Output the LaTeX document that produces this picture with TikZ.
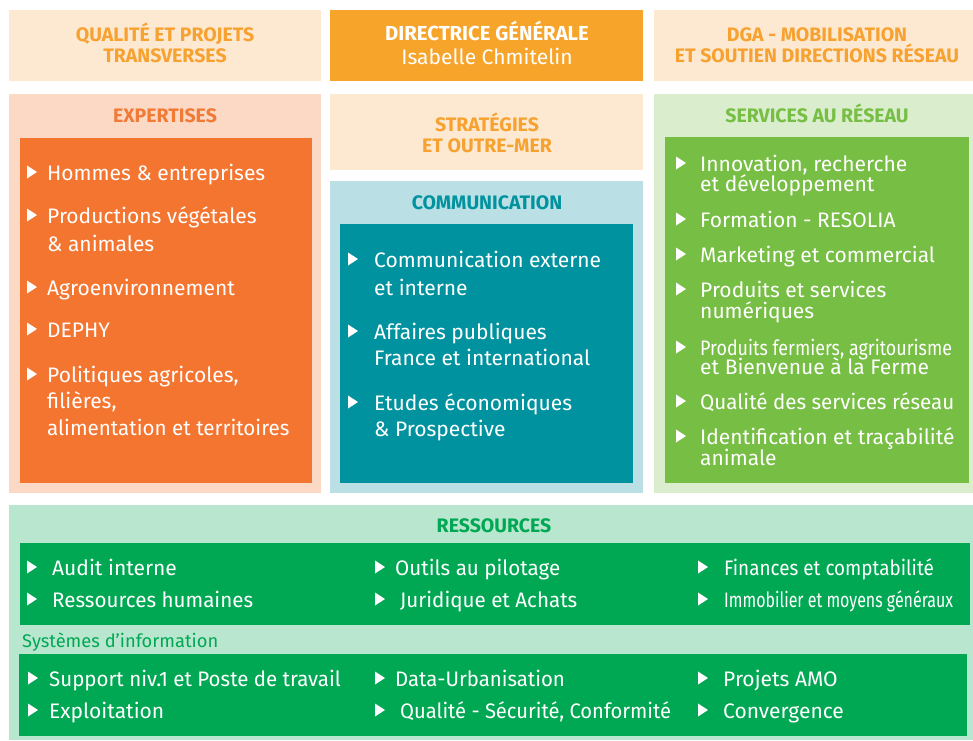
\documentclass[tikz,border=0pt]{standalone}
\usepackage{fontspec}
\setmainfont{Fira Sans}
\definecolor{peach}{HTML}{FDE9D1}
\definecolor{otext}{HTML}{F7A230}
\definecolor{dir}{HTML}{F7A42B}
\definecolor{expout}{HTML}{FBD9C5}
\definecolor{expin}{HTML}{F47530}
\definecolor{exptxt}{HTML}{F07A36}
\definecolor{comout}{HTML}{BADFE4}
\definecolor{comin}{HTML}{00939F}
\definecolor{srvout}{HTML}{DAEDCC}
\definecolor{srvin}{HTML}{77BE44}
\definecolor{resout}{HTML}{B8E6CF}
\definecolor{resin}{HTML}{00A853}
\tikzset{
  ttl/.style={anchor=base, inner sep=0pt, font=\bfseries\fontsize{19.5}{19.5}\selectfont},
  body/.style={anchor=base west, inner sep=0pt, text=white, font=\fontsize{21}{21}\selectfont},
  small/.style={anchor=base west, inner sep=0pt, font=\fontsize{18.3}{18.3}\selectfont},
  bul/.style={fill=white},
}
\newcommand\tri[2]{\fill[bul] (#1,#2-14.5) -- (#1+10,#2-8) -- (#1,#2-1.5) -- cycle;}
\newcommand\sx[2]{\scalebox{#1}[1]{#2}}
\begin{document}
\begin{tikzpicture}[x=1pt,y=-1pt]
\useasboundingbox (0,0) rectangle (973,740);
\fill[white] (0,0) rectangle (973,740);
% top row
\fill[peach] (9,10) rectangle (321,81);
\fill[dir] (330,10) rectangle (643,81);
\fill[peach] (654,10) rectangle (973,81);
\node[ttl,text=otext] (q1) at (165,41) {QUALITÉ ET PROJETS};
\node[ttl,text=otext] (q2) at (165,62) {TRANSVERSES};
\node[ttl,text=white,font=\bfseries\fontsize{20.3}{20.3}\selectfont] (d1) at (487,40) {DIRECTRICE GÉNÉRALE};
\node[anchor=base,inner sep=0pt,text=white,font=\fontsize{21}{21}\selectfont] (d2) at (487,64) {Isabelle Chmitelin};
\node[ttl,text=otext] (g1) at (817,41) {DGA - MOBILISATION};
\node[ttl,text=otext] (g2) at (817,62) {ET SOUTIEN DIRECTIONS RÉSEAU};
% expertises
\fill[expout] (9,94) rectangle (321,493);
\fill[expin] (20,138) rectangle (312,483);
\node[ttl,text=exptxt] (ex) at (165,122) {EXPERTISES};
\tri{27}{180}\node[body] (e1) at (47,180) {Hommes \& entreprises};
\tri{27}{223}\node[body] (e2) at (47,223) {Productions végétales};
\node[body] (e2b) at (47,251) {\& animales};
\tri{27}{295}\node[body] (e3) at (47,295) {Agroenvironnement};
\tri{27}{337}\node[body] (e4) at (47,337) {DEPHY};
\tri{27}{382}\node[body] (e5) at (47,382) {Politiques agricoles,};
\node[body] (e5b) at (47,408) {filières,};
\node[body] (e5c) at (47,435) {\sx{0.98}{alimentation et territoires}};
% strategies
\fill[peach] (330,94) rectangle (643,170);
\node[ttl,text=otext] (s1) at (487,131) {STRATÉGIES};
\node[ttl,text=otext] (s2) at (487,152) {ET OUTRE-MER};
% communication
\fill[comout] (330,181) rectangle (643,493);
\fill[comin] (340,224) rectangle (633,483);
\node[ttl,text=comin] (co) at (487,209) {COMMUNICATION};
\tri{348}{267}\node[body] (c1) at (374,267) {Communication externe};
\node[body] (c1b) at (374,295) {et interne};
\tri{348}{339}\node[body] (c2) at (374,339) {Affaires publiques};
\node[body] (c2b) at (374,365) {France et international};
\tri{348}{410}\node[body] (c3) at (374,410) {Etudes économiques};
\node[body] (c3b) at (374,436) {\& Prospective};
% services
\fill[srvout] (654,94) rectangle (973,493);
\fill[srvin] (665,137) rectangle (969,483);
\node[ttl,text=srvin] (sv) at (817,122) {SERVICES AU RÉSEAU};
\tri{676}{171}\node[body] (r1) at (700,171) {Innovation, recherche};
\node[body] (r1b) at (700,191) {et développement};
\tri{676}{227}\node[body] (r2) at (700,227) {Formation - RESOLIA};
\tri{676}{262}\node[body] (r3) at (700,262) {Marketing et commercial};
\tri{676}{297}\node[body] (r4) at (700,297) {Produits et services};
\node[body] (r4b) at (700,318) {numériques};
\tri{676}{355}\node[body] (r5) at (700,355) {\sx{0.85}{Produits fermiers, agritourisme}};
\node[body] (r5b) at (700,374) {et Bienvenue à la Ferme};
\tri{676}{409}\node[body] (r6) at (700,409) {\sx{0.98}{Qualité des services réseau}};
\tri{676}{444}\node[body] (r7) at (700,444) {Identification et traçabilité};
\node[body] (r7b) at (700,465) {animale};
% ressources
\fill[resout] (9,505) rectangle (973,740);
\fill[resin] (20,543) rectangle (970,625);
\fill[resin] (19,654) rectangle (967,736);
\node[ttl,text=resin] (rs) at (494,532) {RESSOURCES};
\tri{27}{575}\node[body] (a1) at (52,575) {Audit interne};
\tri{27}{607}\node[body] (a2) at (52,607) {\sx{0.98}{Ressources humaines}};
\tri{375}{575}\node[body] (a3) at (395,575) {\sx{0.98}{Outils au pilotage}};
\tri{375}{607}\node[body] (a4) at (400,607) {\sx{0.98}{Juridique et Achats}};
\tri{698}{575}\node[body] (a5) at (724,575) {\sx{0.9}{Finances et comptabilité}};
\tri{698}{607}\node[body] (a6) at (724,607) {\sx{0.76}{Immobilier et moyens généraux}};
\node[small,text=resin] (si) at (22,647) {Systèmes d’information};
\tri{28}{686}\node[body] (b1) at (49,686) {\sx{0.975}{Support niv.1 et Poste de travail}};
\tri{28}{718}\node[body] (b2) at (49,718) {Exploitation};
\tri{375}{686}\node[body] (b3) at (395,686) {\sx{0.97}{Data-Urbanisation}};
\tri{375}{718}\node[body] (b4) at (400,718) {\sx{0.96}{Qualité - Sécurité, Conformité}};
\tri{698}{686}\node[body] (b5) at (723,686) {Projets AMO};
\tri{698}{718}\node[body] (b6) at (723,718) {Convergence};
\end{tikzpicture}
\end{document}
